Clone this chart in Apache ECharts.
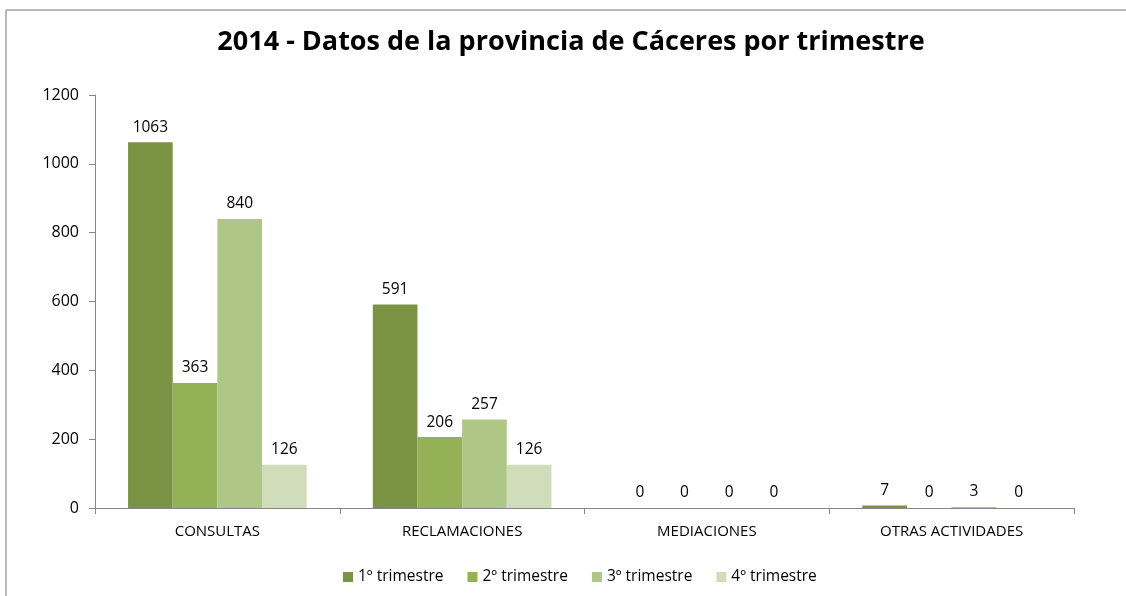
<!DOCTYPE html>
<html>
<head>
<meta charset="utf-8">
<script src="https://cdn.jsdelivr.net/npm/echarts@6/dist/echarts.min.js"></script>
<style>
  html, body { margin: 0; padding: 0; background: #fff; }
  #main { width: 1126px; height: 596px; }
</style>
</head>
<body>
<div id="main"></div>
<script>
// categorías y valores por trimestre
var categorias = ['CONSULTAS', 'RECLAMACIONES', 'MEDIACIONES', 'OTRAS ACTIVIDADES'];
var trimestres = ['1º trimestre', '2º trimestre', '3º trimestre', '4º trimestre'];
var t1 = [1063, 591, 0, 7];
var t2 = [363, 206, 0, 0];
var t3 = [840, 257, 0, 3];
var t4 = [126, 126, 0, 0];
var colores = ['#7A9345', '#93B157', '#AFC786', '#D0DDBA'];

var fuente = 'Open Sans';
var datos = [t1, t2, t3, t4];

var series = datos.map(function (d, i) {
	return {
		name: trimestres[i],
		type: 'bar',
		data: d,
		barGap: '0%',
		barCategoryGap: '27%',
		itemStyle: { color: colores[i] },
		label: {
			show: true,
			position: 'top',
			distance: 7,
			color: '#000',
			fontFamily: fuente,
			fontSize: 15.5
		}
	};
});

var myChart = echarts.init(document.getElementById('main'));
myChart.setOption({
	animation: false,
	title: {
		text: '2014 - Datos de la provincia de Cáceres por trimestre',
		left: 566,
		textAlign: 'center',
		top: 24,
		textStyle: { fontFamily: fuente, fontWeight: 'bold', fontSize: 27, color: '#000' }
	},
	legend: {
		data: trimestres,
		bottom: 6,
		left: 338,
		itemWidth: 10,
		itemHeight: 10,
		itemGap: 24,
		icon: 'rect',
		textStyle: { fontFamily: fuente, fontSize: 15.5, color: '#000' }
	},
	grid: { left: 95, right: 52, top: 95, bottom: 88 },
	xAxis: {
		type: 'category',
		data: categorias,
		axisLine: { lineStyle: { color: '#868686' } },
		axisTick: { show: true, length: 6, lineStyle: { color: '#868686' } },
		axisLabel: { color: '#000', fontFamily: fuente, fontSize: 15, margin: 16 }
	},
	yAxis: {
		type: 'value',
		min: 0,
		max: 1200,
		interval: 200,
		axisLine: { show: true, lineStyle: { color: '#868686' } },
		axisTick: { show: true, length: 6, lineStyle: { color: '#868686' } },
		splitLine: { show: false },
		axisLabel: {
			color: '#000', fontFamily: fuente, fontSize: 16, margin: 16,
			formatter: function (v) { return String(v); }
		}
	},
	graphic: [
		{ type: 'line', shape: { x1: 6, y1: 10, x2: 1126, y2: 10 }, style: { stroke: '#a0a0a0', lineWidth: 1.5 } },
		{ type: 'line', shape: { x1: 6, y1: 10, x2: 6, y2: 596 }, style: { stroke: '#a0a0a0', lineWidth: 1.5 } }
	],
	series: series
});
</script>
</body>
</html>
